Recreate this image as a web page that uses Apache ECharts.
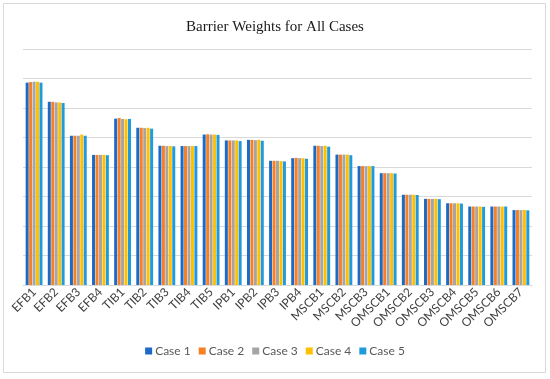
<!DOCTYPE html>
<html>
<head>
<meta charset="utf-8">
<script src="https://cdn.jsdelivr.net/npm/echarts@6/dist/echarts.min.js"></script>
<style>html,body{margin:0;padding:0;background:#fff;}#c{width:550px;height:379px;}</style>
</head>
<body>
<div id="c"></div>
<script>
const categories = ['EFB1','EFB2','EFB3','EFB4','TIB1','TIB2','TIB3','TIB4','TIB5','IPB1','IPB2','IPB3','IPB4','MSCB1','MSCB2','MSCB3','OMSCB1','OMSCB2','OMSCB3','OMSCB4','OMSCB5','OMSCB6','OMSCB7'];
const case1 = [0.0686,0.0621,0.0506,0.0441,0.0564,0.0533,0.0472,0.0471,0.0510,0.0490,0.0492,0.0421,0.0430,0.0472,0.0442,0.0403,0.0379,0.0306,0.0292,0.0277,0.0266,0.0266,0.0254];
const case2 = [0.0688,0.0621,0.0506,0.0441,0.0566,0.0533,0.0472,0.0471,0.0511,0.0490,0.0492,0.0421,0.0431,0.0472,0.0442,0.0403,0.0379,0.0306,0.0292,0.0277,0.0266,0.0266,0.0254];
const case3 = [0.0689,0.0619,0.0506,0.0441,0.0563,0.0532,0.0471,0.0471,0.0510,0.0490,0.0491,0.0421,0.0430,0.0471,0.0442,0.0403,0.0379,0.0306,0.0292,0.0277,0.0266,0.0266,0.0254];
const case4 = [0.0689,0.0619,0.0510,0.0441,0.0562,0.0533,0.0471,0.0471,0.0510,0.0490,0.0492,0.0420,0.0430,0.0472,0.0442,0.0403,0.0379,0.0306,0.0292,0.0277,0.0266,0.0266,0.0254];
const case5 = [0.0686,0.0617,0.0506,0.0440,0.0563,0.0530,0.0470,0.0471,0.0509,0.0488,0.0489,0.0419,0.0428,0.0469,0.0440,0.0403,0.0378,0.0305,0.0291,0.0276,0.0265,0.0266,0.0253];
const seriesNames = ['Case 1','Case 2','Case 3','Case 4','Case 5'];
const colors = ['#1A6AC6','#F97F24','#A5A5A5','#FFC000','#1F9BDD'];
const data = [case1,case2,case3,case4,case5];

const chart = echarts.init(document.getElementById('c'), null, {renderer:'canvas'});
chart.setOption({
  animation:false,
  color: colors,
  graphic:[{type:'rect',shape:{x:3.5,y:3.5,width:542,height:369},style:{fill:'none',stroke:'#D9D9D9',lineWidth:1},z:-1}],
  title:{text:'Barrier Weights for All Cases',left:'center',top:15,textStyle:{fontFamily:'Liberation Serif',fontWeight:'normal',fontSize:15,color:'#1a1a1a'}},
  legend:{bottom:17,left:'center',itemWidth:7,itemHeight:7,itemGap:8,icon:'rect',textStyle:{fontFamily:'Lato',fontSize:12,color:'#595959',padding:[0,0,0,-2]},data:seriesNames},
  grid:{left:23,right:18,top:49,bottom:94,containLabel:false},
  xAxis:{type:'category',data:categories,axisLine:{lineStyle:{color:'#D9D9D9'}},axisTick:{show:false},
    axisLabel:{rotate:45,interval:0,fontFamily:'Lato',fontSize:12,color:'#404040',margin:5}},
  yAxis:{type:'value',min:0,max:0.08,interval:0.01,axisLabel:{show:false},axisLine:{show:false},axisTick:{show:false},
    splitLine:{lineStyle:{color:'#D9D9D9',width:1}}},
  series: data.map((d,i)=>({name:seriesNames[i],type:'bar',data:d,barGap:'15%',barCategoryGap:'24%',itemStyle:{color:colors[i]}}))
});
</script>
</body>
</html>
